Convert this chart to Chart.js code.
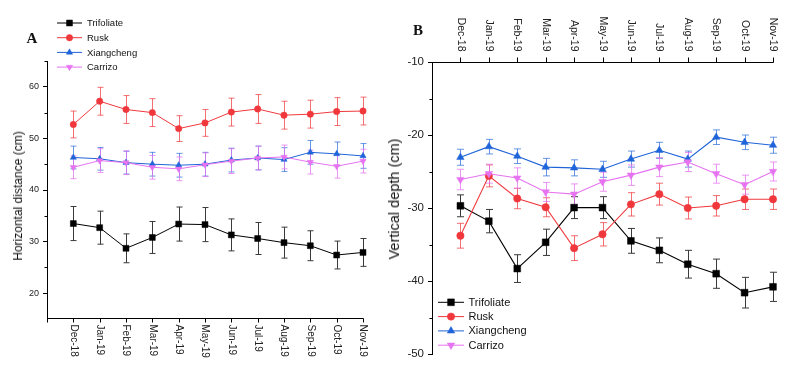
<!DOCTYPE html>
<html>
<head>
<meta charset="utf-8">
<script src="https://cdn.jsdelivr.net/npm/chart.js@4"></script>
<style>
  html, body { margin:0; padding:0; background:#fff; }
  #wrap { position:relative; width:800px; height:370px; overflow:hidden; font-family: Arial, "Liberation Sans", sans-serif; }
  canvas { position:absolute; top:0; }
  .ytitle { position:absolute; white-space:nowrap; color:#111; transform: translate(-50%,-50%) rotate(-90deg); }
  .letter { position:absolute; font-family:"Liberation Serif", "Times New Roman", serif; font-weight:bold; color:#111; transform: translate(-50%,-50%); }
</style>
</head>
<body>
<div id="wrap">
  <canvas id="cA" width="400" height="370" style="left:0"></canvas>
  <canvas id="cB" width="400" height="370" style="left:400px"></canvas>
  <div class="letter" style="left:32px;top:38px;font-size:15px;">A</div>
  <div class="letter" style="left:418px;top:30px;font-size:15px;">B</div>
  <div class="ytitle" style="left:18px;top:196px;font-size:12px;">Horizontal distance (cm)</div>
  <div class="ytitle" style="left:394px;top:199px;font-size:14.5px;">Vertical depth (cm)</div>
</div>
<script>
// ---------- data ----------
const categories = ['Dec-18','Jan-19','Feb-19','Mar-19','Apr-19','May-19','Jun-19','Jul-19','Aug-19','Sep-19','Oct-19','Nov-19'];
const seriesNames = ['Trifoliate','Rusk','Xiangcheng','Carrizo'];

// Panel A: horizontal distance (cm)
const hTrifoliate    = [33.5, 32.7, 28.7, 30.8, 33.4, 33.3, 31.3, 30.6, 29.8, 29.2, 27.4, 27.9];
const hTrifoliateErr = [3.3, 3.2, 2.8, 3.1, 3.3, 3.3, 3.1, 3.1, 3.0, 2.9, 2.7, 2.7];
const hRusk          = [52.7, 57.2, 55.6, 55.0, 51.9, 53.0, 55.1, 55.7, 54.5, 54.7, 55.2, 55.3];
const hRuskErr       = [2.6, 2.7, 2.7, 2.7, 2.5, 2.6, 2.7, 2.8, 2.7, 2.7, 2.7, 2.7];
const hXiangcheng    = [46.3, 46.05, 45.3, 45.0, 44.8, 45.0, 45.8, 46.2, 45.9, 47.3, 47.0, 46.6];
const hXiangchengErr = [2.2, 2.2, 2.2, 2.3, 2.3, 2.3, 2.3, 2.3, 2.3, 2.3, 2.3, 2.4];
const hCarrizo       = [44.4, 45.7, 45.3, 44.4, 44.1, 44.9, 45.6, 46.2, 46.4, 45.4, 44.6, 45.6];
const hCarrizoErr    = [2.2, 2.3, 2.3, 2.3, 2.3, 2.3, 2.4, 2.3, 2.3, 2.3, 2.3, 2.3];
const hTicks = [20, 30, 40, 50, 60];
const hMinorTicks = [25, 35, 45, 55, 65];

// Panel B: vertical depth (cm)
const vTrifoliate    = [-29.7, -31.8, -38.3, -34.7, -29.95, -29.95, -34.5, -35.8, -37.7, -39.0, -41.6, -40.8];
const vTrifoliateErr = [1.5, 1.6, 1.9, 1.8, 1.5, 1.5, 1.7, 1.7, 1.9, 2.0, 2.1, 2.0];
const vRusk          = [-33.8, -25.6, -28.7, -29.9, -35.5, -33.6, -29.5, -28.1, -30.0, -29.7, -28.8, -28.8];
const vRuskErr       = [1.7, 1.5, 1.4, 1.3, 1.7, 1.6, 1.6, 1.5, 1.5, 1.4, 1.4, 1.4];
const vXiangcheng    = [-23.05, -21.6, -22.9, -24.4, -24.5, -24.7, -23.3, -22.1, -23.3, -20.3, -21.0, -21.4];
const vXiangchengErr = [1.1, 1.0, 1.0, 1.2, 1.1, 1.1, 1.1, 1.1, 1.1, 1.0, 1.0, 1.1];
const vCarrizo       = [-26.1, -25.3, -25.9, -27.8, -28.1, -26.4, -25.5, -24.4, -23.7, -25.3, -26.8, -25.0];
const vCarrizoErr    = [1.4, 1.3, 1.4, 1.3, 1.4, 1.3, 1.4, 1.3, 1.3, 1.3, 1.3, 1.3];
const vTicks = [-50, -40, -30, -20, -10];
const vMinorTicks = [-45, -35, -25, -15];

// ---------- styles ----------
const FONT = 'Arial, "Liberation Sans", sans-serif';
const colors    = ['#000000', '#f0383c', '#1f64d8', '#e673f0'];
const errColors = ['#3a3a3a', 'rgba(240,56,60,0.72)', 'rgba(31,100,216,0.68)', 'rgba(230,115,240,0.75)'];
const pStyles   = ['rect', 'circle', 'triangle', 'triangle'];
const pRot      = [0, 0, 0, 180];
const drawOrder = [4, 3, 2, 1];

function buildDatasets(values, radii, lw) {
  return values.map((vals, d) => ({
    label: seriesNames[d],
    data: vals.map((v, i) => ({ x: i, y: v })),
    borderColor: colors[d],
    backgroundColor: colors[d],
    borderWidth: lw,
    pointStyle: pStyles[d],
    pointRotation: pRot[d],
    pointRadius: radii[d],
    pointBorderWidth: 0.5,
    pointBackgroundColor: colors[d],
    pointBorderColor: colors[d],
    tension: 0,
    clip: false,
    order: drawOrder[d]
  }));
}

const deco = {
  id: 'deco',
  beforeDatasetsDraw(chart, args, o) {
    const ctx = chart.ctx, xs = chart.scales.x, ys = chart.scales.y;
    ctx.save();
    ctx.lineWidth = 1;
    o.errors.forEach((errs, d) => {
      ctx.strokeStyle = errColors[d];
      const vals = o.values[d];
      vals.forEach((v, i) => {
        const x = Math.round(xs.getPixelForValue(i)) + 0.5;
        const y1 = ys.getPixelForValue(v + errs[i]);
        const y2 = ys.getPixelForValue(v - errs[i]);
        ctx.beginPath();
        ctx.moveTo(x, y1); ctx.lineTo(x, y2);
        ctx.moveTo(x - o.cap, y1); ctx.lineTo(x + o.cap, y1);
        ctx.moveTo(x - o.cap, y2); ctx.lineTo(x + o.cap, y2);
        ctx.stroke();
      });
    });
    ctx.restore();
  },
  afterDraw(chart, args, o) {
    const ctx = chart.ctx, xs = chart.scales.x, ys = chart.scales.y, ca = chart.chartArea;
    ctx.save();
    ctx.strokeStyle = '#000';
    ctx.fillStyle = '#222';
    ctx.lineWidth = 1;
    // x axis line + ticks
    const ay = o.side === 'bottom' ? Math.round(ca.bottom) - 0.5 : Math.round(ca.top) + 0.5;
    ctx.beginPath();
    ctx.moveTo(ca.left, ay); ctx.lineTo(ca.right + 0.5, ay);
    const tickVals = o.side === 'bottom' ? [-1].concat(categories.map((c, i) => i)) : categories.map((c, i) => i);
    tickVals.forEach(v => {
      const x = Math.round(xs.getPixelForValue(v)) + 0.5;
      if (o.side === 'bottom') { ctx.moveTo(x, ay); ctx.lineTo(x, ay + o.tickLen); }
      else { ctx.moveTo(x, ay); ctx.lineTo(x, ay - o.tickLen); }
    });
    // minor y ticks
    o.minor.forEach(v => {
      const y = Math.round(ys.getPixelForValue(v)) + 0.5;
      ctx.moveTo(ca.left - 2.5, y); ctx.lineTo(ca.left, y);
    });
    ctx.stroke();
    // x labels (rotated clockwise)
    ctx.font = o.xFont + 'px ' + FONT;
    ctx.textBaseline = 'middle';
    categories.forEach((c, i) => {
      const x = xs.getPixelForValue(i);
      ctx.save();
      if (o.side === 'bottom') {
        ctx.translate(x, ay + o.labelGap);
        ctx.rotate(Math.PI / 2);
        ctx.textAlign = 'left';
      } else {
        ctx.translate(x, ay - o.labelGap);
        ctx.rotate(Math.PI / 2);
        ctx.textAlign = 'right';
      }
      ctx.fillText(c, 0, 0);
      ctx.restore();
    });
    // legend
    const L = o.legend;
    ctx.font = L.font + 'px ' + FONT;
    ctx.textAlign = 'left';
    ctx.textBaseline = 'middle';
    chart.data.datasets.forEach((ds, d) => {
      const y = L.y + d * L.gap;
      ctx.strokeStyle = colors[d];
      ctx.lineWidth = 1;
      ctx.beginPath();
      ctx.moveTo(L.x0, y); ctx.lineTo(L.x1, y);
      ctx.stroke();
      ctx.fillStyle = colors[d];
      ctx.strokeStyle = colors[d];
      ctx.lineWidth = 0.5;
      Chart.helpers.drawPoint(ctx, { pointStyle: pStyles[d], rotation: pRot[d], radius: ds.pointRadius, borderWidth: 0.5 }, (L.x0 + L.x1) / 2, y);
      ctx.fillStyle = '#111';
      ctx.fillText(ds.label, L.tx, y + 0.5);
    });
    ctx.restore();
  }
};

function yScale(min, max, ticks, fontSize, width) {
  return {
    type: 'linear', min: min, max: max, position: 'left',
    afterBuildTicks: s => { s.ticks = ticks.map(v => ({ value: v })); },
    afterFit: s => { s.width = width; },
    ticks: { font: { size: fontSize, family: FONT }, color: '#222', padding: 4 },
    grid: { drawOnChartArea: false, drawTicks: true, tickLength: 4, color: '#000', lineWidth: 1 },
    border: { display: true, color: '#000', width: 1 }
  };
}

function common(padding, yopt, decoOpts) {
  return {
    responsive: false,
    devicePixelRatio: 1,
    animation: false,
    events: [],
    layout: { padding: padding },
    scales: {
      x: { type: 'linear', min: -1, max: 11, display: false },
      y: yopt
    },
    plugins: { legend: { display: false }, tooltip: { enabled: false }, deco: decoOpts }
  };
}

// Panel A
const aValues = [hTrifoliate, hRusk, hXiangcheng, hCarrizo];
const aErrors = [hTrifoliateErr, hRuskErr, hXiangchengErr, hCarrizoErr];
new Chart(document.getElementById('cA'), {
  type: 'line',
  data: { datasets: buildDatasets(aValues, [4.2, 3.2, 3.6, 3.6], 1) },
  options: common({ left: 0, top: 61, right: 37, bottom: 51 }, yScale(15, 65, hTicks, 9, 47), {
    side: 'bottom', values: aValues, errors: aErrors, cap: 3, tickLen: 4, labelGap: 6, xFont: 10,
    minor: hMinorTicks,
    legend: { x0: 57, x1: 82, tx: 87, y: 23, gap: 14.7, font: 9.5 }
  }),
  plugins: [deco]
});

// Panel B
const bValues = [vTrifoliate, vRusk, vXiangcheng, vCarrizo];
const bErrors = [vTrifoliateErr, vRuskErr, vXiangchengErr, vCarrizoErr];
new Chart(document.getElementById('cB'), {
  type: 'line',
  data: { datasets: buildDatasets(bValues, [4.8, 3.7, 4.3, 4.3], 1.1) },
  options: common({ left: 0, top: 62, right: 27, bottom: 16 }, yScale(-50, -10, vTicks, 11.5, 32), {
    side: 'top', values: bValues, errors: bErrors, cap: 3.5, tickLen: 5, labelGap: 11, xFont: 10.5,
    minor: vMinorTicks,
    legend: { x0: 38, x1: 64, tx: 68.5, y: 302.3, gap: 14.3, font: 11 }
  }),
  plugins: [deco]
});
</script>
</body>
</html>
